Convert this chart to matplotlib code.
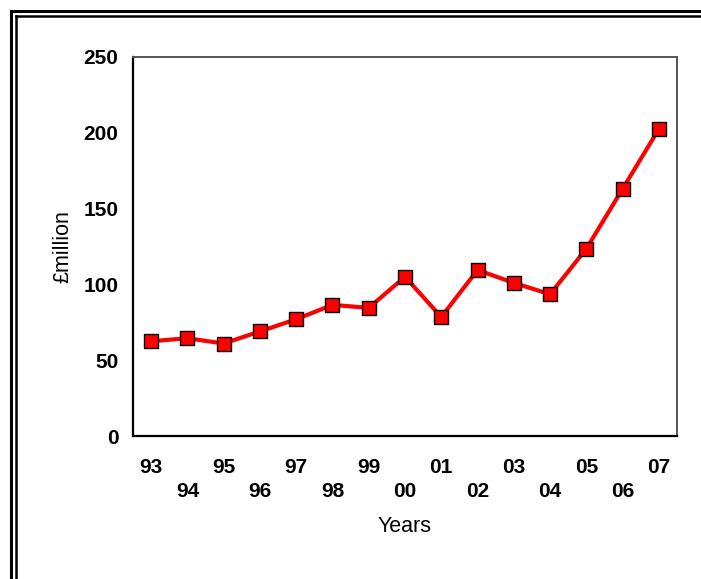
import matplotlib.pyplot as plt
from matplotlib.lines import Line2D

plt.rcParams['font.family'] = ['Liberation Sans', 'DejaVu Sans']

# データ
years = ['93', '94', '95', '96', '97', '98', '99', '00',
         '01', '02', '03', '04', '05', '06', '07']
values = [62.5, 64.5, 61, 69, 77, 86.5, 84.5, 105,
          78.5, 109.5, 101, 93.5, 123.5, 163, 202.5]
y_ticks = [0, 50, 100, 150, 200, 250]

W, H = 701, 579
fig = plt.figure(figsize=(W / 100, H / 100), dpi=100)
ax = fig.add_axes([133 / W, 1 - 436 / H, (677 - 133) / W, (436 - 57) / H])

x = list(range(len(years)))
ax.plot(x, values, color='#ff0000', lw=3, marker='s', ms=9.5,
        mfc='#ff0000', mec='black', mew=1, zorder=3)

ax.set_xlim(-0.5, len(years) - 0.5)
ax.set_ylim(0, 250)
ax.set_yticks(y_ticks)
ax.set_yticklabels([str(v) for v in y_ticks], fontsize=15, fontweight='bold')

# 2段の目盛りラベル
labels = [y if i % 2 == 0 else '\n' + y for i, y in enumerate(years)]
ax.set_xticks(x)
ax.set_xticklabels(labels, fontsize=15, fontweight='bold', linespacing=1.32)
ax.tick_params(axis='both', length=0)
ax.tick_params(axis='x', pad=16)
ax.tick_params(axis='y', pad=10.5)

ax.set_xlabel('Years', fontsize=15.5)
ax.set_ylabel('£million', fontsize=15.5)
ax.xaxis.set_label_coords(0.5, -0.21)
ax.yaxis.set_label_coords(-0.11, 0.5)

for s in ['left', 'bottom']:
    ax.spines[s].set_color('black')
    ax.spines[s].set_linewidth(1.6)
for s in ['top', 'right']:
    ax.spines[s].set_color('#555555')
    ax.spines[s].set_linewidth(1.4)

# 二重枠
def px(xp, yp):
    return xp / W, 1 - yp / H

for off, lw in [(11, 2.2), (15.5, 1.8)]:
    x0, y0 = px(off, off)
    fig.add_artist(Line2D([x0, 1], [y0, y0], color='black', lw=lw,
                          transform=fig.transFigure))
    fig.add_artist(Line2D([x0, x0], [y0, 0], color='black', lw=lw,
                          transform=fig.transFigure))

fig.savefig('out.png', dpi=100)
